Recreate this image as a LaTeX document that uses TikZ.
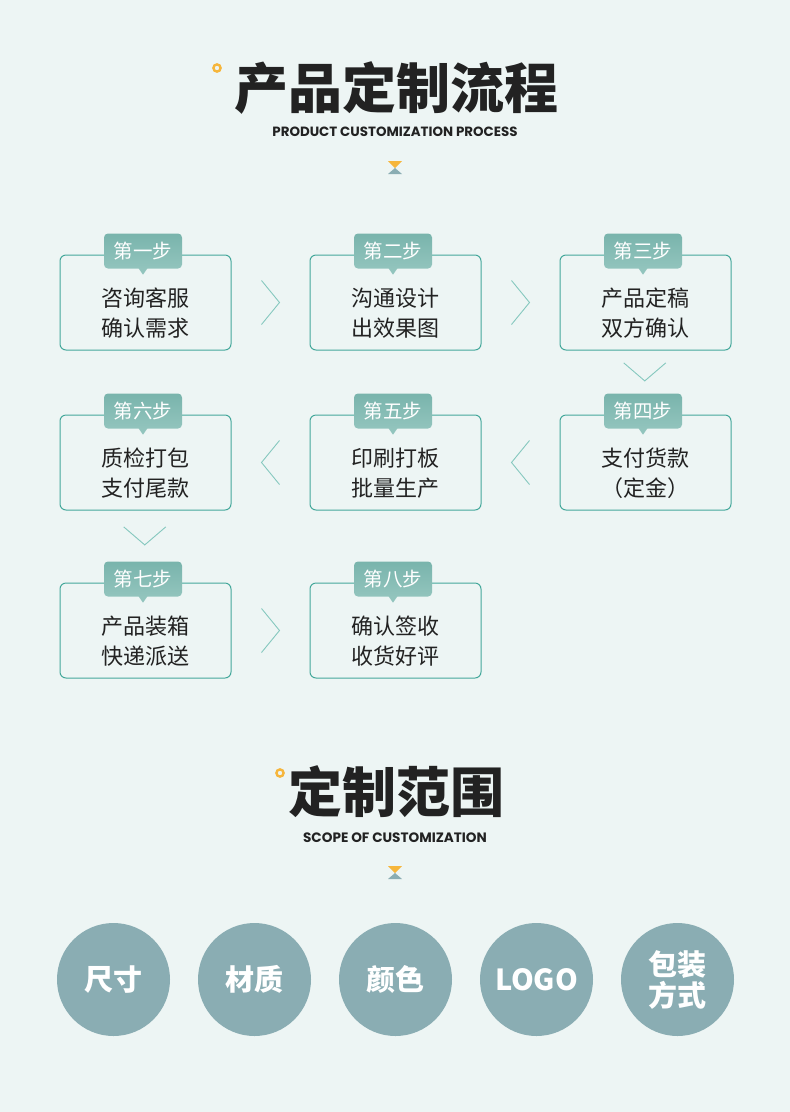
\documentclass[tikz,border=0pt]{standalone}
\usepackage{fontspec}
\setmainfont{Noto Sans CJK SC}
\newfontfamily\latinb{Poppins}
\usetikzlibrary{calc}
\definecolor{bgc}{HTML}{EDF5F4}
\definecolor{boxc}{HTML}{45A89B}
\definecolor{tabtop}{HTML}{79B4AC}
\definecolor{tabbot}{HTML}{92C4BD}
\definecolor{tabc}{HTML}{8CC0B9}
\definecolor{chevc}{HTML}{86C8BF}
\definecolor{circc}{HTML}{8AADB3}
\definecolor{orng}{HTML}{F6B63C}
\definecolor{txt}{HTML}{222222}
\tikzset{
 stepbox/.style={draw=boxc, line width=1pt, rounded corners=6pt, minimum width=171pt, minimum height=95pt, inner sep=0pt},
 steptab/.style={top color=tabtop, bottom color=tabbot, rounded corners=4pt, minimum width=78pt, minimum height=35pt, text=white, font=\fontsize{19.5}{19.5}\selectfont, inner sep=0pt},
 steptext/.style={align=center, font=\fontsize{22}{30}\selectfont, text=txt, inner sep=0pt},
 chev/.style={draw=chevc, line width=0.9pt},
 circ/.style={circle, fill=circc, minimum size=113pt, inner sep=0pt, text=white, font=\bfseries\fontsize{29}{31}\selectfont, align=center},
 bigtitle/.style={font=\bfseries\fontsize{54}{54}\selectfont, text=txt, inner sep=0pt},
 subtitle/.style={font=\latinb\bfseries\fontsize{13.4}{14}\selectfont, text=txt, inner sep=0pt},
 ring/.style={draw=orng, line width=2.4pt},
}
\newcommand\mychevright[1]{\draw[chev] ($(#1)+(-9,-22)$) -- ($(#1)+(9,0)$) -- ($(#1)+(-9,22)$);}
\newcommand\mychevleft[1]{\draw[chev] ($(#1)+(9,-22)$) -- ($(#1)+(-9,0)$) -- ($(#1)+(9,22)$);}
\newcommand\mychevdown[1]{\draw[chev] ($(#1)+(-21,-9)$) -- ($(#1)+(0,9)$) -- ($(#1)+(21,-9)$);}
\newcommand\myglass[1]{%
 \fill[orng] ($(#1)+(-7,-7)$) -- ($(#1)+(7,-7)$) -- ($(#1)+(0,0)$) -- cycle;
 \fill[circc] ($(#1)+(-7,6)$) -- ($(#1)+(7,6)$) -- ($(#1)+(0,0)$) -- cycle;}
\begin{document}
\begin{tikzpicture}[x=1pt,y=-1pt]
\fill[bgc] (0,0) rectangle (790,1112);
\useasboundingbox (0,0) rectangle (790,1112);

% title 1
\node[bigtitle] (t1) at (396,88) {产品定制流程};
\draw[ring] (217,68) circle (3.6);
\node[subtitle] (s1) at (395,132) {PRODUCT CUSTOMIZATION PROCESS};
\coordinate (g1) at (395,168);
\myglass{g1}

% step boxes
\foreach \n/\x/\y in {1/145.5/302.5, 2/395.5/302.5, 3/645.5/302.5, 4/645.5/462.5, 5/395.5/462.5, 6/145.5/462.5, 7/145.5/630.5, 8/395.5/630.5}{
  \node[stepbox] (b\n) at (\x,\y) {};
}
\foreach \n/\lab/\txt in {1/第一步/{咨询客服\\确认需求}, 2/第二步/{沟通设计\\出效果图}, 3/第三步/{产品定稿\\双方确认}, 4/第四步/{支付货款\\（定金）}, 5/第五步/{印刷打板\\批量生产}, 6/第六步/{质检打包\\支付尾款}, 7/第七步/{产品装箱\\快递派送}, 8/第八步/{确认签收\\收货好评}}{
  \node[steptab] (l\n) at ($(b\n.north)+(-2.5,-3.5)$) {\lab};
  \fill[tabbot] ($(l\n.south)+(-4.5,-0.5)$) -- ($(l\n.south)+(0,6)$) -- ($(l\n.south)+(4.5,-0.5)$) -- cycle;
  \node[steptext] (x\n) at ($(b\n.center)+(0,10.5)$) {\txt};
}

% chevrons
\coordinate (c12) at ($(b1.east)!0.5!(b2.west)$);
\coordinate (c23) at ($(b2.east)!0.5!(b3.west)$);
\coordinate (c54) at ($(b5.east)!0.5!(b4.west)$);
\coordinate (c65) at ($(b6.east)!0.5!(b5.west)$);
\coordinate (c78) at ($(b7.east)!0.5!(b8.west)$);
\coordinate (c34) at ($(b3.south)!0.5!(l4.north)+(0.5,0)$);
\coordinate (c67) at ($(b6.south)!0.5!(l7.north)+(0.5,0)$);
\mychevright{c12}
\mychevright{c23}
\mychevleft{c54}
\mychevleft{c65}
\mychevright{c78}
\mychevdown{c34}
\mychevdown{c67}

% title 2
\node[bigtitle] (t2) at (396,792) {定制范围};
\draw[ring] (280,773) circle (3.6);
\node[subtitle, font=\latinb\bfseries\fontsize{13.6}{14}\selectfont] (s2) at (395,838) {SCOPE OF CUSTOMIZATION};
\coordinate (g2) at (395,873);
\myglass{g2}

% circles
\node[circ] (k1) at (113.5,979.5) {尺寸};
\node[circ] (k2) at (254.5,979.5) {材质};
\node[circ] (k3) at (395.5,979.5) {颜色};
\node[circ] (k4) at (536.5,979.5) {LOGO};
\node[circ] (k5) at (677.5,979.5) {包装\\方式};
\end{tikzpicture}
\end{document}
